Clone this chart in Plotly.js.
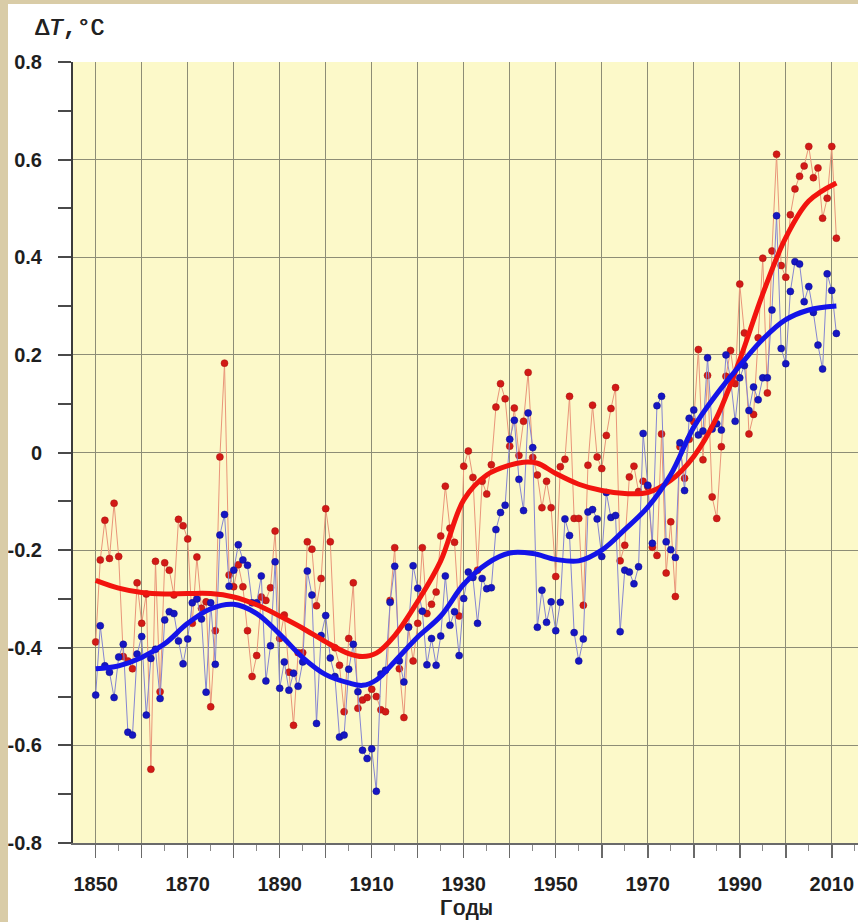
<!DOCTYPE html>
<html>
<head>
<meta charset="utf-8">
<script src="https://cdn.plot.ly/plotly-3.0.1.min.js"></script>
<style>
  html, body { margin: 0; padding: 0; background: #d9cca7; width: 858px; height: 922px; overflow: hidden; }
  #chart { position: absolute; left: 8px; top: 4px; width: 850px; height: 918px; background: #ffffff; }
</style>
</head>
<body>
<div id="chart"></div>
<script>
// Annual temperature anomalies, 1850–2011 (°C)
const years = [];
for (let y = 1850; y <= 2011; y++) years.push(y);

const redSeries = [
  -0.388, -0.220, -0.139, -0.217, -0.104, -0.213, -0.418, -0.427, -0.443, -0.267,
  -0.350, -0.290, -0.649, -0.223, -0.490, -0.226, -0.241, -0.292, -0.137, -0.150,
  -0.177, -0.350, -0.214, -0.319, -0.306, -0.521, -0.365, -0.009, 0.183, -0.251,
  -0.275, -0.230, -0.275, -0.365, -0.459, -0.416, -0.296, -0.303, -0.277, -0.161,
  -0.381, -0.333, -0.450, -0.559, -0.410, -0.410, -0.183, -0.198, -0.314, -0.258,
  -0.115, -0.183, -0.400, -0.436, -0.531, -0.381, -0.267, -0.524, -0.507, -0.502,
  -0.485, -0.500, -0.527, -0.531, -0.303, -0.195, -0.443, -0.543, -0.357, -0.427,
  -0.350, -0.195, -0.330, -0.311, -0.286, -0.171, -0.069, -0.155, -0.184, -0.335,
  -0.028, 0.003, -0.051, -0.241, -0.059, -0.085, -0.025, 0.093, 0.141, 0.110,
  0.013, 0.091, -0.006, 0.064, 0.164, -0.010, -0.046, -0.113, -0.059, -0.113,
  -0.254, -0.029, -0.014, 0.115, -0.135, -0.135, -0.313, -0.026, 0.097, -0.009,
  -0.033, 0.035, 0.090, 0.133, -0.222, -0.190, -0.050, -0.028, -0.080, -0.059,
  -0.070, -0.194, -0.211, 0.038, -0.247, -0.142, -0.295, 0.012, -0.053, 0.027,
  0.063, 0.211, -0.015, 0.158, -0.091, -0.135, 0.012, 0.156, 0.209, 0.141,
  0.345, 0.245, 0.038, 0.078, 0.235, 0.398, 0.122, 0.413, 0.611, 0.383,
  0.359, 0.487, 0.540, 0.566, 0.587, 0.627, 0.563, 0.583, 0.480, 0.521,
  0.627, 0.439
];

const blueSeries = [
  -0.497, -0.355, -0.437, -0.450, -0.502, -0.419, -0.393, -0.573, -0.579, -0.413,
  -0.377, -0.538, -0.422, -0.403, -0.504, -0.343, -0.326, -0.330, -0.386, -0.433,
  -0.382, -0.308, -0.300, -0.341, -0.491, -0.308, -0.434, -0.169, -0.127, -0.274,
  -0.241, -0.189, -0.220, -0.231, -0.308, -0.308, -0.253, -0.468, -0.396, -0.224,
  -0.483, -0.429, -0.487, -0.452, -0.479, -0.429, -0.243, -0.292, -0.555, -0.375,
  -0.334, -0.421, -0.459, -0.583, -0.579, -0.444, -0.393, -0.490, -0.610, -0.627,
  -0.607, -0.694, -0.454, -0.446, -0.307, -0.233, -0.427, -0.470, -0.358, -0.232,
  -0.278, -0.325, -0.435, -0.381, -0.436, -0.376, -0.253, -0.354, -0.326, -0.416,
  -0.299, -0.245, -0.256, -0.350, -0.258, -0.279, -0.277, -0.158, -0.123, -0.108,
  0.027, 0.066, -0.055, -0.119, 0.081, 0.010, -0.358, -0.282, -0.348, -0.306,
  -0.365, -0.307, -0.136, -0.170, -0.369, -0.427, -0.382, -0.122, -0.117, -0.136,
  -0.213, -0.082, -0.133, -0.129, -0.367, -0.241, -0.245, -0.269, -0.234, 0.039,
  -0.067, -0.186, 0.096, 0.115, -0.183, -0.199, -0.215, 0.020, -0.078, 0.070,
  0.087, 0.036, 0.044, 0.194, 0.048, 0.059, 0.046, 0.200, 0.151, 0.064,
  0.153, 0.178, 0.086, 0.134, 0.108, 0.153, 0.153, 0.292, 0.485, 0.213,
  0.182, 0.330, 0.391, 0.386, 0.309, 0.340, 0.287, 0.220, 0.171, 0.366,
  0.332, 0.244
];

// Smoothed trend curves
const redTrendYears = [1850, 1855, 1860, 1865, 1870, 1875, 1880, 1885, 1890, 1895, 1900, 1905, 1908, 1911,
  1915, 1920, 1925, 1930, 1935, 1940, 1943, 1946, 1950, 1955, 1960, 1965, 1970, 1975, 1980, 1985,
  1990, 1995, 2000, 2005, 2011];
const redTrend = [-0.262, -0.278, -0.287, -0.290, -0.289, -0.289, -0.296, -0.312, -0.335, -0.360, -0.388,
  -0.412, -0.418, -0.411, -0.375, -0.305, -0.222, -0.097, -0.046, -0.026, -0.020, -0.022, -0.043,
  -0.065, -0.078, -0.084, -0.082, -0.057, -0.008, 0.072, 0.190, 0.325, 0.440, 0.515, 0.552];

const blueTrendYears = [1850, 1855, 1860, 1865, 1870, 1875, 1880, 1885, 1890, 1895, 1900, 1905, 1908, 1911,
  1915, 1920, 1925, 1930, 1935, 1940, 1945, 1950, 1955, 1960, 1965, 1970, 1975, 1980, 1985, 1990,
  1995, 2000, 2005, 2011];
const blueTrend = [-0.443, -0.437, -0.420, -0.392, -0.350, -0.320, -0.311, -0.330, -0.372, -0.420, -0.455,
  -0.472, -0.477, -0.466, -0.428, -0.378, -0.335, -0.270, -0.228, -0.206, -0.207, -0.219, -0.222,
  -0.200, -0.158, -0.112, -0.045, 0.052, 0.120, 0.178, 0.232, 0.272, 0.292, 0.300];

// Axis ticks
const xTickVals = [1850, 1860, 1870, 1880, 1890, 1900, 1910, 1920, 1930, 1940, 1950, 1960, 1970, 1980, 1990, 2000, 2010];
const xTickText = ['1850', '', '1870', '', '1890', '', '1910', '', '1930', '', '1950', '', '1970', '', '1990', '', '2010'];
const yTickVals = [-0.8, -0.6, -0.4, -0.2, 0, 0.2, 0.4, 0.6, 0.8];
const yTickText = ['-0.8', '-0.6', '-0.4', '-0.2', '0', '0.2', '0.4', '0.6', '0.8'];

const traces = [
  {
    x: years, y: redSeries, type: 'scatter', mode: 'lines+markers',
    line: { color: '#e99579', width: 1 },
    marker: { color: '#d21a16', size: 7, line: { color: '#a51210', width: 0.5 } },
    hoverinfo: 'x+y'
  },
  {
    x: years, y: blueSeries, type: 'scatter', mode: 'lines+markers',
    line: { color: '#8585d2', width: 1 },
    marker: { color: '#1616c2', size: 7, line: { color: '#0c0c8c', width: 0.5 } },
    hoverinfo: 'x+y'
  },
  {
    x: redTrendYears, y: redTrend, type: 'scatter', mode: 'lines',
    line: { color: '#f2140e', width: 5, shape: 'spline', smoothing: 1 },
    hoverinfo: 'skip'
  },
  {
    x: blueTrendYears, y: blueTrend, type: 'scatter', mode: 'lines',
    line: { color: '#1414e8', width: 5, shape: 'spline', smoothing: 1 },
    hoverinfo: 'skip'
  }
];

const tickFont = { family: 'Liberation Sans, Arial, sans-serif', size: 20, color: '#1e1e1e', weight: 'bold' };
// Courier-style captions; a 1px shadow gives them a heavier stroke
const monoFont = (size) => ({ family: 'Liberation Mono, Courier New, monospace', size: size, color: '#222222', shadow: '0.8px 0 0 #222222' });

const layout = {
  width: 850, height: 918,
  margin: { l: 65, r: 0, t: 58, b: 79 },
  paper_bgcolor: '#ffffff',
  plot_bgcolor: '#fcf9c9',
  showlegend: false,
  title: {
    text: 'Δ<i>T</i>,°C',
    font: monoFont(23),
    x: 27 / 850, xref: 'container', xanchor: 'left',
    y: 1 - 23 / 918, yref: 'container', yanchor: 'middle'
  },
  xaxis: {
    range: [1845.07, 2015.7],
    tickmode: 'array', tickvals: xTickVals, ticktext: xTickText,
    ticks: 'outside', ticklen: 13, tickwidth: 1.5, tickcolor: '#6a6a6a',
    ticklabelstandoff: 9,
    minor: { tickmode: 'array', tickvals: [1845, 1855, 1865, 1875, 1885, 1895, 1905, 1915, 1925, 1935, 1945, 1955, 1965, 1975, 1985, 1995, 2005, 2015],
             ticks: 'outside', ticklen: 6, tickwidth: 1, tickcolor: '#8a8a8a', showgrid: false },
    showgrid: true, gridcolor: '#8d8d76', gridwidth: 1,
    showline: true, linecolor: '#6a6a6a', linewidth: 1.5,
    zeroline: false,
    tickfont: tickFont,
    title: {
      text: 'Годы',
      font: monoFont(22),
      standoff: 6
    }
  },
  yaxis: {
    range: [-0.8, 0.8],
    tickmode: 'array', tickvals: yTickVals, ticktext: yTickText,
    ticks: 'outside', ticklen: 13, tickwidth: 2, tickcolor: '#4a4a4a',
    ticklabelstandoff: 12,
    minor: { dtick: 0.1, tick0: 0, ticks: 'outside', ticklen: 13, tickwidth: 2, tickcolor: '#4a4a4a', showgrid: false },
    showgrid: true, gridcolor: '#8d8d76', gridwidth: 1,
    showline: true, linecolor: '#3c3c3c', linewidth: 2,
    zeroline: false,
    tickfont: tickFont
  }
};

Plotly.newPlot('chart', traces, layout, { staticPlot: true });
</script>
</body>
</html>
